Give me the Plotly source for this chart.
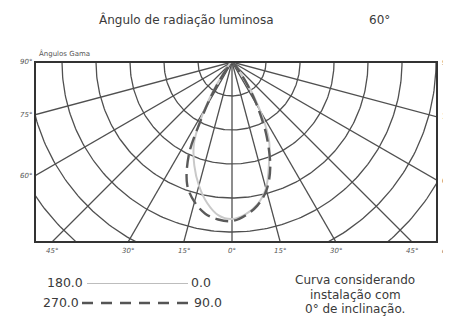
import numpy as np
import plotly.graph_objects as go

# ---- data (cd/klm) ----
gamma = [0, 5, 10, 15, 20, 25, 28, 31, 34, 37, 40]
c0 = [459, 450, 426, 385, 318, 259, 206, 147, 94, 47, 0]
c180 = [462, 453, 421, 376, 324, 265, 206, 141, 82, 35, 0]
c90 = [465, 453, 429, 391, 329, 241, 182, 129, 82, 41, 0]
c270 = [468, 465, 453, 426, 385, 300, 200, 124, 65, 24, 0]

ring_values = [100, 200, 300, 400, 500, 600, 700, 800]
ray_angles = [-90, -75, -60, -45, -30, -15, 0, 15, 30, 45, 60, 75, 90]
side_angles = [90, 75, 60]
bottom_angles = [-45, -30, -15, 0, 15, 30, 45]

X_MIN, X_MAX = -579.4, 602.9
Y_MIN, Y_MAX = -529.4, 0.0

GRID = "#505050"

# page body has an 8px margin: shift everything up/left by 8px
OFF = 8


def polar_xy(r, g, side):
    g = np.radians(np.asarray(g, dtype=float))
    r = np.asarray(r, dtype=float)
    return side * r * np.sin(g), -r * np.cos(g)


fig = go.Figure()

# rings
rx, ry = [], []
t = np.radians(np.arange(-90, 90.5, 1.0))
for rv in ring_values:
    rx += list(rv * np.sin(t)) + [None]
    ry += list(-rv * np.cos(t)) + [None]
fig.add_trace(go.Scatter(x=rx, y=ry, mode="lines",
                         line=dict(color=GRID, width=1.3),
                         hoverinfo="skip", showlegend=False))

# rays
ax, ay = [], []
for a in ray_angles:
    ar = np.radians(a)
    ax += [0, 1200 * np.sin(ar), None]
    ay += [0, -1200 * np.cos(ar), None]
fig.add_trace(go.Scatter(x=ax, y=ay, mode="lines",
                         line=dict(color=GRID, width=1.3),
                         hoverinfo="skip", showlegend=False))

# C0-180 curve (solid, light)
lx, ly = polar_xy(c180[::-1], gamma[::-1], -1)
rx2, ry2 = polar_xy(c0, gamma, 1)
fig.add_trace(go.Scatter(x=list(lx) + list(rx2[1:]), y=list(ly) + list(ry2[1:]),
                         mode="lines", line=dict(color="#c9c9c9", width=2, shape="spline"),
                         hoverinfo="skip", showlegend=False))

# C90-270 curve (dashed, dark)
lx, ly = polar_xy(c270[::-1], gamma[::-1], -1)
rx2, ry2 = polar_xy(c90, gamma, 1)
fig.add_trace(go.Scatter(x=list(lx) + list(rx2[1:]), y=list(ly) + list(ry2[1:]),
                         mode="lines",
                         line=dict(color="#5a5a5a", width=2.4, shape="spline", dash="13px,6px"),
                         hoverinfo="skip", showlegend=False))

ann = []
small = dict(family="DejaVu Sans", size=7, color="#555555")
# side labels
for a in side_angles:
    yv = 0.0 if a == 90 else -abs(X_MIN) / np.tan(np.radians(a))
    ann.append(dict(x=X_MIN, y=yv, xref="x", yref="y", text=f"<i>{a}°</i>",
                    showarrow=False, xanchor="right", yanchor="middle", xshift=-1, font=small))
    yv2 = 0.0 if a == 90 else -X_MAX / np.tan(np.radians(a))
    ann.append(dict(x=X_MAX, y=yv2, xref="x", yref="y", text=f"<i>{a}</i>",
                    showarrow=False, xanchor="left", yanchor="middle", xshift=3,
                    font=dict(family="DejaVu Sans", size=7.5, color="#555555")))
# bottom labels
for a in bottom_angles:
    xv = -Y_MIN * np.tan(np.radians(a))
    ann.append(dict(x=xv, y=Y_MIN, xref="x", yref="y", text=f"<i>{abs(a)}°</i>",
                    showarrow=False, xanchor="center", yanchor="top", yshift=-3, font=small))
ann.append(dict(x=X_MAX, y=Y_MIN, xref="x", yref="y", text="<i>cd/klm</i>",
                showarrow=False, xanchor="left", yanchor="top", xshift=3, yshift=-3, font=small))
ann.append(dict(x=0.005, y=1.0, xref="paper", yref="paper", text="Ângulos Gama",
                showarrow=False, xanchor="left", yanchor="bottom", yshift=2, font=small))

PW, PH, L, T = 402.0, 180.0, 35.0 - OFF, 62.0 - OFF


def px(xp):
    return (xp - OFF - L) / PW


def py(yp):
    return (T + PH - (yp - OFF)) / PH


title_font = dict(family="DejaVu Sans", size=12, color="#3a3a3a")
ann.append(dict(x=px(186), y=py(20), xref="paper", yref="paper",
                text="Ângulo de radiação luminosa", showarrow=False,
                xanchor="center", yanchor="middle", font=title_font))
ann.append(dict(x=px(379), y=py(20), xref="paper", yref="paper",
                text="60°", showarrow=False, xanchor="center", yanchor="middle", font=title_font))

leg_font = dict(family="DejaVu Sans", size=12.5, color="#3a3a3a")
ann += [
    dict(x=px(85), y=py(282), text="180.0", xanchor="right"),
    dict(x=px(189), y=py(282), text="0.0", xanchor="left"),
    dict(x=px(81), y=py(302), text="270.0", xanchor="right"),
    dict(x=px(192), y=py(302), text="90.0", xanchor="left"),
]
for a in ann[-4:]:
    a.update(xref="paper", yref="paper", showarrow=False, yanchor="middle", font=leg_font)

note_font = dict(family="DejaVu Sans", size=12, color="#3a3a3a")
for txt, yy in [("Curva considerando", 280), ("instalação com", 295), ("0° de inclinação.", 309)]:
    ann.append(dict(x=px(355), y=py(yy), xref="paper", yref="paper", text=txt,
                    showarrow=False, xanchor="center", yanchor="middle", font=note_font))

shapes = [
    dict(type="rect", xref="paper", yref="paper", x0=0, x1=1, y0=0, y1=1,
         line=dict(color="#333333", width=2), layer="above"),
    dict(type="line", xref="paper", yref="paper", x0=px(87), x1=px(188), y0=py(283.5), y1=py(283.5),
         line=dict(color="#bdbdbd", width=1.2)),
    dict(type="line", xref="paper", yref="paper", x0=px(82), x1=px(192), y0=py(303), y1=py(303),
         line=dict(color="#555555", width=2.4, dash="11px,8px")),
]

W, H = 451 - OFF, 316 - OFF
fig.update_layout(
    width=W, height=H,
    margin=dict(l=L, r=W - L - PW, t=T, b=H - T - PH, pad=0),
    paper_bgcolor="white", plot_bgcolor="white",
    xaxis=dict(range=[X_MIN, X_MAX], visible=False, fixedrange=True),
    yaxis=dict(range=[Y_MIN, Y_MAX], visible=False, fixedrange=True),
    annotations=ann, shapes=shapes, showlegend=False,
)

fig.write_html("out.html")
